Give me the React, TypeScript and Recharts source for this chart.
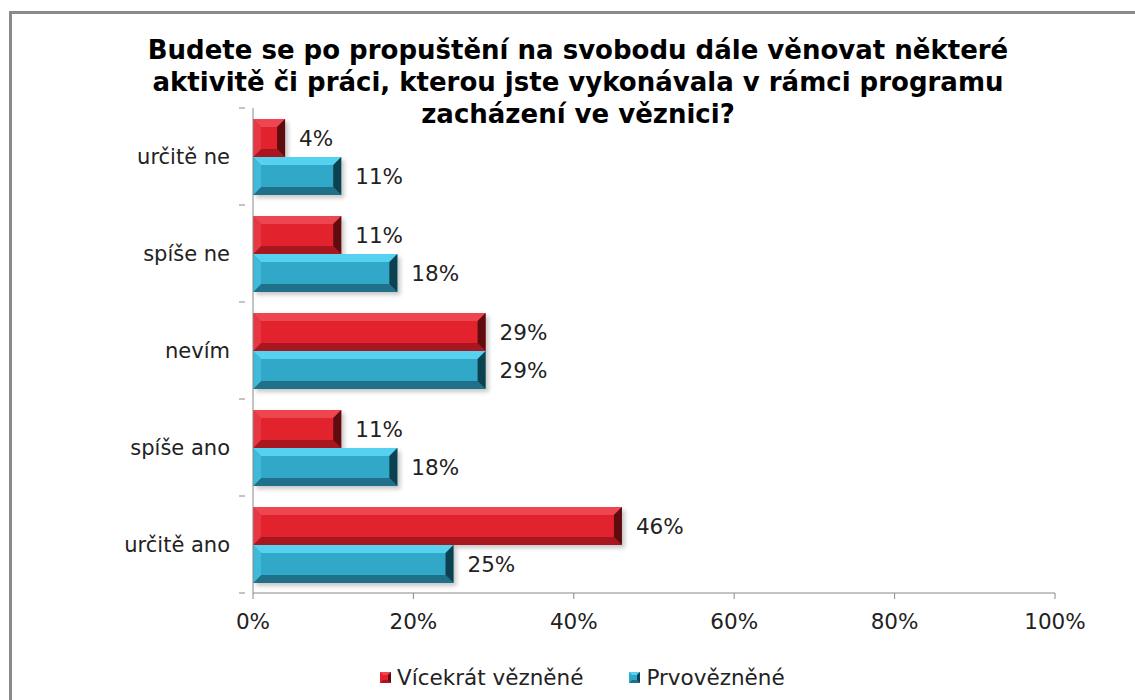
import React from "react";
import { Bar, BarChart, LabelList, XAxis, YAxis } from "recharts";

const categories = ["určitě ne", "spíše ne", "nevím", "spíše ano", "určitě ano"];
const vicekrat = [4, 11, 29, 11, 46];
const prvo = [11, 18, 29, 18, 25];
const xTicks = [0, 20, 40, 60, 80, 100];
const titleLines = [
  "Budete se po propuštění na svobodu dále věnovat některé",
  "aktivitě či práci, kterou jste vykonávala v rámci programu",
  "zacházení ve věznici?",
];

const SERIES = [
  { key: "vicekrat", name: "Vícekrát vězněné" },
  { key: "prvo", name: "Prvovězněné" },
];

const PALETTE: Record<string, { main: string; top: string; left: string; bottom: string; right: string }> = {
  vicekrat: { main: "#E2232E", top: "#EE4651", left: "#E73742", bottom: "#A8171F", right: "#5E0C10" },
  prvo: { main: "#31A8C8", top: "#56D2F0", left: "#41BADA", bottom: "#20708A", right: "#0D4150" },
};

const data = categories.map((c, i) => ({ cat: c, vicekrat: vicekrat[i], prvo: prvo[i] }));

const FONT = "'DejaVu Sans', Verdana, sans-serif";
const W = 1135;
const H = 700;
const TOP = 108;
const BOTTOM_AXIS = 593;
const BAND = (BOTTOM_AXIS - TOP) / categories.length;
const TXT = 21.5;

function BevelBar(props: any) {
  const { x, y, width, height, dataKey } = props;
  const p = PALETTE[dataKey as string] ?? PALETTE.prvo;
  if (!width || width <= 0) return null;
  const b = Math.min(8, width / 2, height / 3);
  const x2 = x + width;
  const y2 = y + height;
  return (
    <g>
      <rect x={x + 3} y={y + 3} width={width} height={height} fill="rgba(0,0,0,0.22)" filter="url(#barShadow)" />
      <rect x={x} y={y} width={width} height={height} fill={p.main} />
      <polygon points={`${x},${y} ${x2},${y} ${x2 - b},${y + b} ${x + b},${y + b}`} fill={p.top} />
      <polygon points={`${x},${y2} ${x2},${y2} ${x2 - b},${y2 - b} ${x + b},${y2 - b}`} fill={p.bottom} />
      <polygon points={`${x},${y} ${x + b},${y + b} ${x + b},${y2 - b} ${x},${y2}`} fill={p.left} />
      <polygon points={`${x2},${y} ${x2 - b},${y + b} ${x2 - b},${y2 - b} ${x2},${y2}`} fill={p.right} />
    </g>
  );
}

function CatTick(props: any) {
  const { x, y, payload, index } = props;
  return (
    <g>
      <text x={x - 15} y={y} dy="0.355em" textAnchor="end" fontFamily={FONT} fontSize={21} fill="#222">
        {payload.value}
      </text>
      {index === 0 && <line x1={x - 6} x2={x} y1={y - BAND / 2} y2={y - BAND / 2} stroke="#888" />}
      <line x1={x - 6} x2={x} y1={y + BAND / 2} y2={y + BAND / 2} stroke="#888" />
    </g>
  );
}

function LegendMark({ k }: { k: string }) {
  const p = PALETTE[k];
  return (
    <svg width={11} height={11} style={{ marginRight: 6 }}>
      <rect x={0} y={0} width={11} height={11} fill={p.main} />
      <polygon points="0,0 11,0 8,3 3,3" fill={p.top} />
      <polygon points="0,11 11,11 8,8 3,8" fill={p.bottom} />
      <polygon points="11,0 8,3 8,8 11,11" fill={p.right} />
    </svg>
  );
}

export default function App() {
  return (
    <div style={{ position: "absolute", left: 0, top: 0, width: W, height: H, overflow: "hidden", background: "#fff" }}>
      <div
        style={{
          position: "absolute",
          left: 9,
          top: 11,
          width: 1200,
          height: 800,
          border: "3px solid #8a8a8a",
        }}
      />
      <div
        style={{
          position: "absolute",
          left: 0,
          width: 1156,
          top: 34,
          textAlign: "center",
          fontFamily: FONT,
          fontWeight: "bold",
          fontSize: 26,
          lineHeight: "32px",
          color: "#000",
        }}
      >
        {titleLines.map((t) => (
          <div key={t}>{t}</div>
        ))}
      </div>
      <div style={{ position: "absolute", left: 0, top: 0 }}>
        <BarChart
          width={W}
          height={H}
          data={data}
          layout="vertical"
          margin={{ top: TOP, right: 80, bottom: H - BOTTOM_AXIS - 30, left: 0 }}
          barCategoryGap={11}
          barGap={0}
        >
          <defs>
            <filter id="barShadow" x="-10%" y="-30%" width="120%" height="160%">
              <feGaussianBlur stdDeviation="2" />
            </filter>
          </defs>
          <XAxis
            type="number"
            domain={[0, 100]}
            ticks={xTicks}
            tickFormatter={(v) => `${v}%`}
            height={30}
            axisLine={{ stroke: "#888" }}
            tickLine={{ stroke: "#888" }}
            tickSize={6}
            tickMargin={15}
            tick={{ fontFamily: FONT, fontSize: TXT, fill: "#222" }}
            interval={0}
          />
          <YAxis
            type="category"
            dataKey="cat"
            width={253}
            axisLine={{ stroke: "#888" }}
            tickLine={false}
            tick={<CatTick />}
            interval={0}
          />
          {SERIES.map((s) => (
            <Bar key={s.key} dataKey={s.key} name={s.name} shape={<BevelBar />} isAnimationActive={false}>
              <LabelList
                dataKey={s.key}
                position="right"
                offset={14}
                formatter={(v: any) => `${v}%`}
                style={{ fontFamily: FONT, fontSize: TXT, fill: "#222" }}
              />
            </Bar>
          ))}
        </BarChart>
      </div>
      <div
        style={{
          position: "absolute",
          left: 380,
          top: 665,
          display: "flex",
          alignItems: "center",
          fontFamily: FONT,
          fontSize: TXT,
          color: "#222",
        }}
      >
        <LegendMark k="vicekrat" />
        <span style={{ marginRight: 46 }}>Vícekrát vězněné</span>
        <LegendMark k="prvo" />
        <span>Prvovězněné</span>
      </div>
    </div>
  );
}
